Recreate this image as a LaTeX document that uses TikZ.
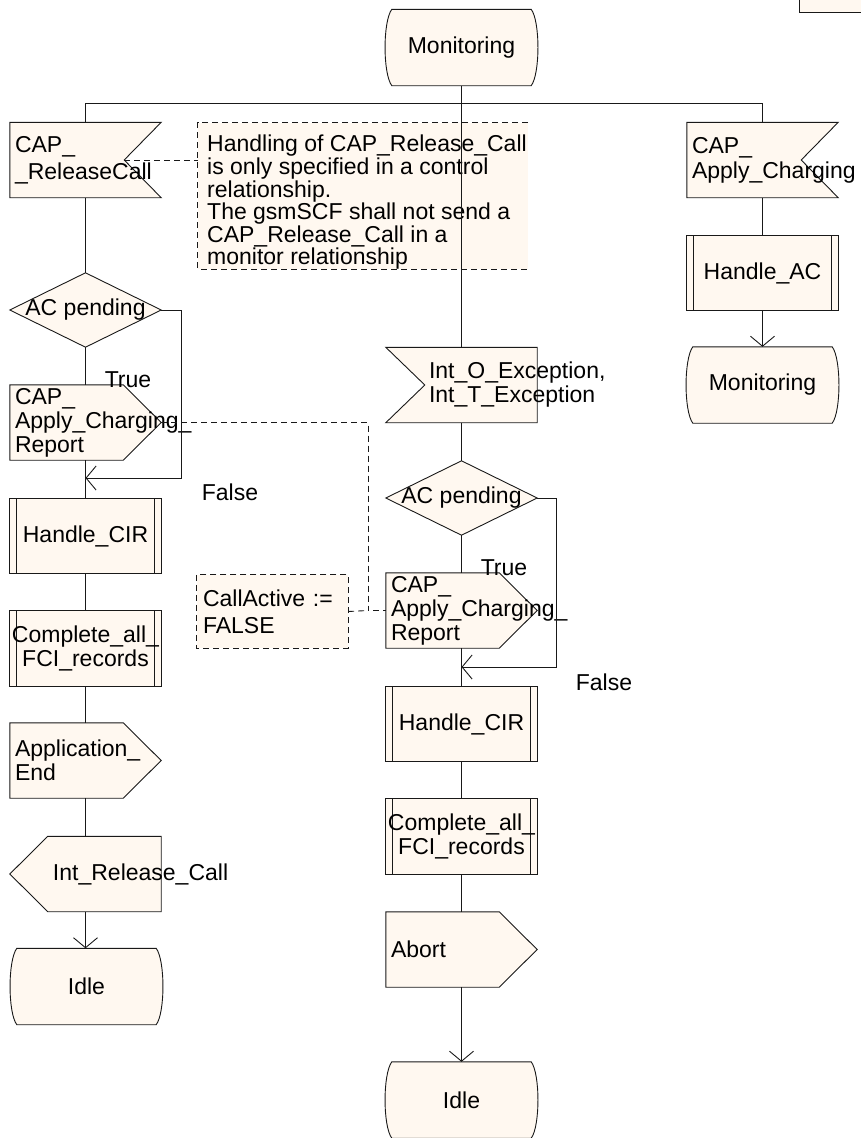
\documentclass[tikz,border=0pt]{standalone}
\usepackage{fontspec}
\setmainfont{Liberation Sans}
\usetikzlibrary{arrows.meta,calc}
\pgfdeclarelayer{background}
\pgfsetlayers{background,main}
\definecolor{cream}{RGB}{255,248,240}
\definecolor{lc}{RGB}{25,25,25}

\newcommand\drawInR[1]{\draw[shp] (#1.north west) -- (#1.north east) -- ($(#1.east)+(-37,0)$) -- (#1.south east) -- (#1.south west) -- cycle;}
\newcommand\drawInL[1]{\draw[shp] (#1.north west) -- (#1.north east) -- (#1.south east) -- (#1.south west) -- ($(#1.west)+(39,0)$) -- cycle;}
\newcommand\drawOutR[1]{\draw[shp] (#1.north west) -- ($(#1.north east)+(-38,0)$) -- (#1.east) -- ($(#1.south east)+(-38,0)$) -- (#1.south west) -- cycle;}
\newcommand\drawOutL[1]{\draw[shp] ($(#1.north west)+(38,0)$) -- (#1.north east) -- (#1.south east) -- ($(#1.south west)+(38,0)$) -- (#1.west) -- cycle;}
\newcommand\drawProc[1]{\draw[shp] (#1.north west) rectangle (#1.south east);
  \draw[wire] ($(#1.north west)+(7,0)$) -- ($(#1.south west)+(7,0)$);
  \draw[wire] ($(#1.north east)+(-7,0)$) -- ($(#1.south east)+(-7,0)$);}
\newcommand\drawDia[1]{\draw[shp] (#1.north) -- (#1.east) -- (#1.south) -- (#1.west) -- cycle;}
\newcommand\drawState[1]{\draw[shp] (#1.north west) -- (#1.north east) .. controls ($(#1.north east)+(9,12)$) and ($(#1.south east)+(9,-12)$) .. (#1.south east) -- (#1.south west) .. controls ($(#1.south west)+(-9,-12)$) and ($(#1.north west)+(-9,12)$) .. (#1.north west) -- cycle;}

\begin{document}
\begin{tikzpicture}[x=1pt,y=-1pt,
  font=\fontsize{23}{24}\selectfont,
  shp/.style={draw=lc, fill=cream, line width=0.9pt},
  wire/.style={draw=lc, line width=0.9pt},
  dsh/.style={draw=lc, line width=0.9pt, dash pattern=on 6pt off 4pt},
  arr/.style={wire, -{Straight Barb[length=10pt,width=24pt,line width=0.9pt]}},
  sdlbase/.style={minimum width=151pt, minimum height=75pt, inner ysep=0pt},
  lbox/.style={sdlbase, inner xsep=5pt, text width=141pt, align=left},
  cbox/.style={sdlbase, inner xsep=0pt, align=center},
  sbox/.style={sdlbase, minimum width=139pt, minimum height=76pt, inner xsep=0pt, align=center},
  lbl/.style={inner sep=0pt},
]
\useasboundingbox (0,0) rectangle (860,1138);

% top-right tag
\node[draw=lc, fill=cream, line width=0.9pt, minimum width=64pt, minimum height=22pt, inner sep=0pt] (tag) at (831,1) {};

% left column
\node[sbox] (mon) at (461.5,47.5) {Monitoring};
\coordinate (barL) at (85.5,103);
\coordinate (barR) at (762.5,103);
\node[lbox, font=\fontsize{23}{27}\selectfont] (rc) at (85.5,160) {CAP\_\\\_ReleaseCall};
\node[cbox, minimum height=74pt] (d1) at (85.5,310) {AC pending};
\node[lbox] (acr1) at (85.5,422.5) {CAP\_\\Apply\_Charging\_\\Report};
\node[cbox] (hcir1) at (85.5,536) {Handle\_CIR};
\node[cbox] (cfci1) at (85.5,648.5) {Complete\_all\_\\FCI\_records};
\node[lbox] (ae) at (85.5,760.5) {Application\_\\End};
\node[lbox] (irc) at (85.5,874) {\hspace*{38pt}Int\_Release\_Call};
\node[sbox] (idle1) at (86.5,986.5) {Idle};

% middle column
\node[lbox] (exc) at (461.5,385) {\hspace*{38pt}Int\_O\_Exception,\\\hspace*{38pt}Int\_T\_Exception};
\node[cbox, minimum height=74pt] (d2) at (461.5,498) {AC pending};
\node[lbox] (acr2) at (461.5,610.5) {CAP\_\\Apply\_Charging\_\\Report};
\node[cbox] (hcir2) at (461.5,724) {Handle\_CIR};
\node[cbox] (cfci2) at (461.5,836.5) {Complete\_all\_\\FCI\_records};
\node[lbox] (abort) at (461.5,949.5) {Abort};
\node[sbox] (idle2) at (461.5,1100) {Idle};

% right column
\node[lbox, font=\fontsize{23}{25}\selectfont] (ac) at (762.5,160) {CAP\_\\Apply\_Charging};
\node[cbox] (hac) at (762.5,273) {Handle\_AC};
\node[sbox] (mon2) at (762.5,385) {Monitoring};

% comments
\node[sdlbase, minimum width=330pt, minimum height=146pt] (note) at (363,196) {};
\node[lbl, anchor=north west, align=left, font=\fontsize{23}{22.6}\selectfont] (notetxt) at (207,135) {Handling of CAP\_Release\_Call\\is only specified in a control\\relationship.\\The gsmSCF shall not send a\\CAP\_Release\_Call in a\\monitor relationship};
\node[lbox, minimum height=73pt, inner xsep=6pt, text width=139pt, font=\fontsize{23}{27}\selectfont] (ca) at (272.5,611.5) {CallActive :=\\FALSE};

% labels
\node[lbl] (t1) at (128,380) {True};
\node[lbl] (f1) at (230,492) {False};
\node[lbl] (t2) at (504,568) {True};
\node[lbl] (f2) at (604,682) {False};

\begin{pgfonlayer}{background}
  \drawState{mon}
  \drawInR{rc}
  \drawDia{d1}
  \drawOutR{acr1}
  \drawProc{hcir1}
  \drawProc{cfci1}
  \drawOutR{ae}
  \drawOutL{irc}
  \drawState{idle1}
  \drawInL{exc}
  \drawDia{d2}
  \drawOutR{acr2}
  \drawProc{hcir2}
  \drawProc{cfci2}
  \drawOutR{abort}
  \drawState{idle2}
  \drawInR{ac}
  \drawProc{hac}
  \drawState{mon2}
  \fill[cream] (note.north west) rectangle (note.south east);
  \draw[dsh] (note.north east) -- (note.north west) -- (note.south west) -- (note.south east);
  \fill[cream] (ca.north west) rectangle (ca.south east);
  \draw[dsh] (ca.north west) rectangle (ca.south east);
\end{pgfonlayer}

% flow lines
\draw[wire] (mon.south) -- (exc.north);
\draw[wire] (rc.north) -- (barL) -- (barR) -- (ac.north);
\draw[wire] (rc.south) -- (d1.north);
\draw[wire] (d1.south) -- (acr1.north);
\coordinate (j1) at (85.5,478);
\draw[arr] (d1.east) -- ++(20,0) |- (j1);
\draw[wire] (acr1.south) -- (hcir1.north);
\draw[wire] (hcir1.south) -- (cfci1.north);
\draw[wire] (cfci1.south) -- (ae.north);
\draw[wire] (ae.south) -- (irc.north);
\draw[arr] (irc.south) -- (irc.south |- idle1.north);

\draw[wire] (exc.south) -- (d2.north);
\draw[wire] (d2.south) -- (acr2.north);
\coordinate (j2) at (461.5,667);
\draw[arr] (d2.east) -- ++(19,0) |- (j2);
\draw[wire] (acr2.south) -- (hcir2.north);
\draw[wire] (hcir2.south) -- (cfci2.north);
\draw[wire] (cfci2.south) -- (abort.north);
\draw[arr] (abort.south) -- (idle2.north);

\draw[wire] (ac.south) -- (hac.north);
\draw[arr] (hac.south) -- (mon2.north);

% comment connectors
\draw[dsh] ($(rc.east)+(-37,0)$) -- (rc.east -| note.west);
\coordinate (k) at (368,610.5);
\draw[dsh] (acr1.east) -| (k) -- (acr2.west);
\draw[dsh] (ca.east) -- (k);
\end{tikzpicture}
\end{document}
